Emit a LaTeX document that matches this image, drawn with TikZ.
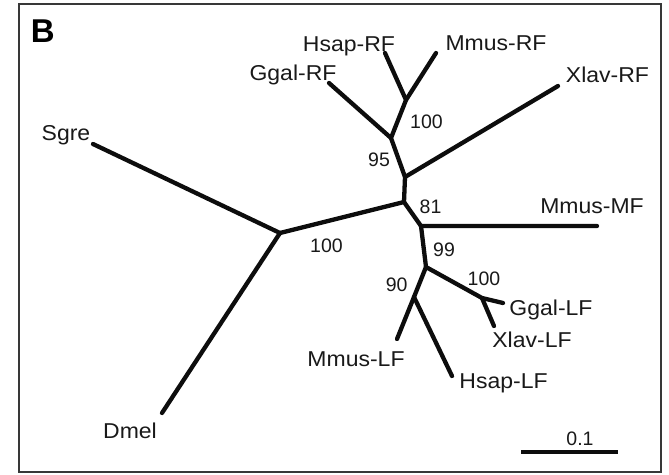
\documentclass[tikz,border=0pt]{standalone}
\usepackage{fontspec}
\setmainfont{Liberation Sans}
\begin{document}
\begin{tikzpicture}[x=1pt,y=-1pt,
  branch/.style={line width=4.3pt, line cap=round, line join=round, black!95},
  taxon/.style={inner sep=0pt, anchor=base, text=black!90,
    font=\fontsize{21.5}{21.5}\selectfont},
  boot/.style={inner sep=0pt, anchor=base, text=black!90,
    font=\fontsize{19.5}{19.5}\selectfont}]
\useasboundingbox (0,0) rectangle (669,474);
% panel frame
\draw[line width=2pt, black!78] (18.5,3.5) rectangle (661,472);
\node[inner sep=0pt, anchor=base, font=\fontsize{33}{33}\selectfont\bfseries] (panel) at (42.8,42.7) {B};

% internal nodes of the tree
\coordinate (root)  at (280,233);
\coordinate (n81)   at (404,202);
\coordinate (nxr)   at (405,177);
\coordinate (n95)   at (391,138);
\coordinate (nrf)   at (406,100);
\coordinate (nmf)   at (421,226);
\coordinate (n99)   at (426,267);
\coordinate (nlf)   at (482,298);
\coordinate (n90)   at (414,297);

% leaf ends
\coordinate (sgre)  at (93,144);
\coordinate (dmel)  at (162,413);
\coordinate (hsrf)  at (385,53);
\coordinate (mmrf)  at (436,53);
\coordinate (ggrf)  at (329,83);
\coordinate (xlrf)  at (558,86);
\coordinate (mmmf)  at (597,226);
\coordinate (gglf)  at (503,303);
\coordinate (xllf)  at (494,326);
\coordinate (mmlf)  at (397,339);
\coordinate (hslf)  at (452,376);

% branches
\draw[branch] (sgre) -- (root) -- (dmel);
\draw[branch] (root) -- (n81) -- (nxr) -- (n95) -- (nrf) -- (hsrf);
\draw[branch] (nrf) -- (mmrf);
\draw[branch] (n95) -- (ggrf);
\draw[branch] (nxr) -- (xlrf);
\draw[branch] (n81) -- (nmf) -- (mmmf);
\draw[branch] (nmf) -- (n99) -- (nlf) -- (gglf);
\draw[branch] (nlf) -- (xllf);
\draw[branch] (n99) -- (n90) -- (mmlf);
\draw[branch] (n90) -- (hslf);

% taxon labels
\node[taxon] (lsgre) at (66,140.5)  {\scalebox{1.07}[1]{Sgre}};
\node[taxon] (ldmel) at (130,438)   {\scalebox{1.07}[1]{Dmel}};
\node[taxon] (lhsrf) at (349,51)    {\scalebox{1.07}[1]{Hsap-RF}};
\node[taxon] (lmmrf) at (496,50)    {\scalebox{1.07}[1]{Mmus-RF}};
\node[taxon] (lggrf) at (293,80)    {\scalebox{1.07}[1]{Ggal-RF}};
\node[taxon] (lxlrf) at (607.5,82)  {\scalebox{1.07}[1]{Xlav-RF}};
\node[taxon] (lmmmf) at (592,213)   {\scalebox{1.07}[1]{Mmus-MF}};
\node[taxon] (lgglf) at (551,315)   {\scalebox{1.07}[1]{Ggal-LF}};
\node[taxon] (lxllf) at (532,347.7) {\scalebox{1.07}[1]{Xlav-LF}};
\node[taxon] (lmmlf) at (356,366.7) {\scalebox{1.07}[1]{Mmus-LF}};
\node[taxon] (lhslf) at (503.5,388) {\scalebox{1.07}[1]{Hsap-LF}};

% bootstrap values
\node[boot] (b100a) at (426.5,128.3) {100};
\node[boot] (b95)   at (379,166.5)   {95};
\node[boot] (b81)   at (430.5,213)   {81};
\node[boot] (b100b) at (326.5,252.5) {100};
\node[boot] (b99)   at (444,256)     {99};
\node[boot] (b90)   at (396.7,291)   {90};
\node[boot] (b100c) at (484,285)     {100};

% scale bar
\coordinate (sbl) at (521,452);
\coordinate (sbr) at (618,452);
\draw[line width=4.5pt, black!95] (sbl) -- (sbr);
\node[boot] (lscale) at (580,445) {0.1};
\end{tikzpicture}
\end{document}
